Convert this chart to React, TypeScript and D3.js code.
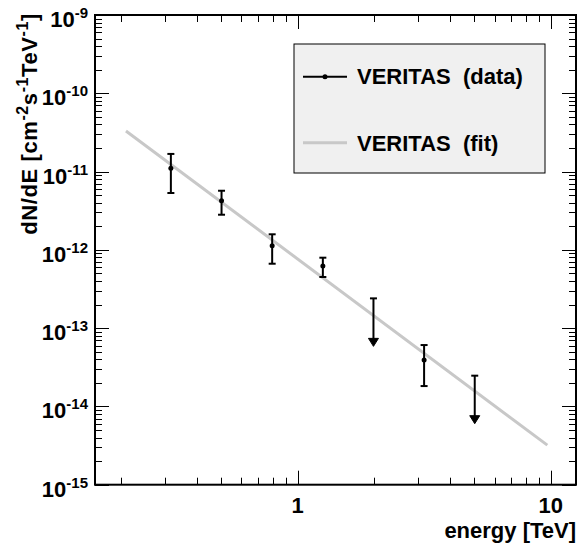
import React from 'react';
import * as d3 from 'd3';

// ---- data ----
const ENERGY = [0.316, 0.501, 0.794, 1.259, 3.162];
const FLUX = [1.10e-11, 4.25e-12, 1.13e-12, 6.22e-13, 3.92e-14];
const FLUX_HI = [1.68e-11, 5.69e-12, 1.58e-12, 7.94e-13, 6.08e-14];
const FLUX_LO = [5.32e-12, 2.81e-12, 6.65e-13, 4.50e-13, 1.82e-14];
const UL_ENERGY = [1.995, 5.012];
const UL_FLUX = [2.40e-13, 2.47e-14];
const FIT_NORM = 7.66e-13; // at 1 TeV
const FIT_INDEX = 2.41;
const FIT_RANGE = [0.21, 9.7];
const X_DOMAIN = [Math.pow(10, -0.8), Math.pow(10, 1.1)];
const Y_DOMAIN = [1e-15, 1e-9];
const X_TICK_LABELS = [
  { v: 1, label: '1' },
  { v: 10, label: '10' },
];
const Y_TICK_EXPONENTS = [-9, -10, -11, -12, -13, -14, -15];
const LEGEND_LABELS = ['VERITAS  (data)', 'VERITAS  (fit)'];

const W = 577;
const H = 548;
const L = 95, R = 576, T = 15, B = 484.7;
const FONT = "'Liberation Sans', Arial, Helvetica, sans-serif";
const FIT_COLOR = '#c8c8c8';

export default function App() {
  const x = d3.scaleLog().domain(X_DOMAIN).range([L, R]);
  const y = d3.scaleLog().domain(Y_DOMAIN).range([B, T]);

  const xTicks: { v: number; major: boolean }[] = [];
  for (let d = -1; d <= 1; d++) {
    for (let k = 1; k <= 9; k++) {
      const v = k * Math.pow(10, d);
      if (v >= X_DOMAIN[0] && v <= X_DOMAIN[1]) xTicks.push({ v, major: k === 1 });
    }
  }
  const yTicks: { v: number; major: boolean }[] = [];
  for (let d = -15; d <= -9; d++) {
    for (let k = 1; k <= 9; k++) {
      const v = k * Math.pow(10, d);
      if (v >= Y_DOMAIN[0] * 0.999 && v <= Y_DOMAIN[1] * 1.001) yTicks.push({ v, major: k === 1 });
    }
  }

  const fitFn = (e: number) => FIT_NORM * Math.pow(e, -FIT_INDEX);
  const fitLine = d3
    .line<number>()
    .x((e) => x(e))
    .y((e) => y(fitFn(e)));

  const MAJ = 14, MIN = 7;
  const ARROW_LEN = 48;
  const FS = 22, SFS = 15;

  return (
    <svg
      width={W}
      height={H}
      style={{ position: 'absolute', left: 0, top: 0, background: '#fff' }}
      fontFamily={FONT}
      fontWeight="bold"
    >
      <rect x={0} y={0} width={W} height={H} fill="#fff" />
      {/* fit */}
      <path d={fitLine(FIT_RANGE) || ''} stroke={FIT_COLOR} strokeWidth={3} fill="none" />

      {/* ticks */}
      {xTicks.map((t, i) => {
        const len = t.major ? MAJ : MIN;
        const xx = Math.round(x(t.v)) + 0.5;
        return (
          <g key={'xt' + i} stroke="#000" strokeWidth={1}>
            <line x1={xx} x2={xx} y1={B} y2={B - len} />
            <line x1={xx} x2={xx} y1={T} y2={T + len} />
          </g>
        );
      })}
      {yTicks.map((t, i) => {
        const len = t.major ? MAJ : MIN;
        const yy = Math.round(y(t.v)) + 0.5;
        return (
          <g key={'yt' + i} stroke="#000" strokeWidth={1}>
            <line x1={L} x2={L + len} y1={yy} y2={yy} />
            <line x1={R} x2={R - len} y1={yy} y2={yy} />
          </g>
        );
      })}

      {/* frame */}
      <rect x={L} y={T} width={R - L} height={B - T} fill="none" stroke="#000" strokeWidth={2} />

      {/* data error bars */}
      {ENERGY.map((e, i) => {
        const xx = x(e);
        return (
          <g key={'p' + i} stroke="#000" strokeWidth={2}>
            <line x1={xx} x2={xx} y1={y(FLUX_HI[i])} y2={y(FLUX_LO[i])} />
            <line x1={xx - 3.5} x2={xx + 3.5} y1={y(FLUX_HI[i])} y2={y(FLUX_HI[i])} />
            <line x1={xx - 3.5} x2={xx + 3.5} y1={y(FLUX_LO[i])} y2={y(FLUX_LO[i])} />
            <circle cx={xx} cy={y(FLUX[i])} r={2.5} fill="#000" stroke="none" />
          </g>
        );
      })}
      {/* upper limits */}
      {UL_ENERGY.map((e, i) => {
        const xx = x(e);
        const y0 = y(UL_FLUX[i]);
        const y1 = y0 + ARROW_LEN;
        return (
          <g key={'ul' + i} stroke="#000" strokeWidth={2}>
            <line x1={xx - 3.5} x2={xx + 3.5} y1={y0} y2={y0} />
            <line x1={xx} x2={xx} y1={y0} y2={y1 - 6} />
            <path d={`M${xx - 5},${y1 - 8} L${xx + 5},${y1 - 8} L${xx},${y1} Z`} fill="#000" strokeWidth={1} />
          </g>
        );
      })}

      {/* y tick labels */}
      {Y_TICK_EXPONENTS.map((p) => (
        <text key={'yl' + p} x={88} y={y(Math.pow(10, p)) + 12} textAnchor="end" fontSize={FS}>
          10
          <tspan fontSize={SFS} dy={-9}>{String(p)}</tspan>
        </text>
      ))}
      {/* x tick labels */}
      {X_TICK_LABELS.map((t) => (
        <text key={'xl' + t.label} x={x(t.v)} y={513} textAnchor="middle" fontSize={FS}>
          {t.label}
        </text>
      ))}

      {/* axis titles */}
      <text x={R} y={538} textAnchor="end" fontSize={FS}>
        energy [TeV]
      </text>
      <text
        transform={`translate(36.5,${T - 2}) rotate(-90)`}
        textAnchor="end"
        fontSize={FS}
        letterSpacing={0.6}
      >
        dN/dE [cm
        <tspan fontSize={16} dy={-9}>-2</tspan>
        <tspan dy={9}>s</tspan>
        <tspan fontSize={16} dy={-9}>-1</tspan>
        <tspan dy={9}>TeV</tspan>
        <tspan fontSize={16} dy={-9}>-1</tspan>
        <tspan dy={9}>]</tspan>
      </text>

      {/* legend */}
      <rect x={294} y={44} width={251} height={129} fill="#f0f0f0" stroke="#000" strokeWidth={1} />
      <line x1={303} x2={347} y1={76.7} y2={76.7} stroke="#000" strokeWidth={2} />
      <circle cx={325} cy={76.7} r={2.5} fill="#000" />
      <text x={357} y={84} fontSize={FS} style={{ whiteSpace: 'pre' }}>
        {LEGEND_LABELS[0]}
      </text>
      <line x1={303} x2={347} y1={142.7} y2={142.7} stroke={FIT_COLOR} strokeWidth={3} />
      <text x={357} y={150.5} fontSize={FS} style={{ whiteSpace: 'pre' }}>
        {LEGEND_LABELS[1]}
      </text>
    </svg>
  );
}
